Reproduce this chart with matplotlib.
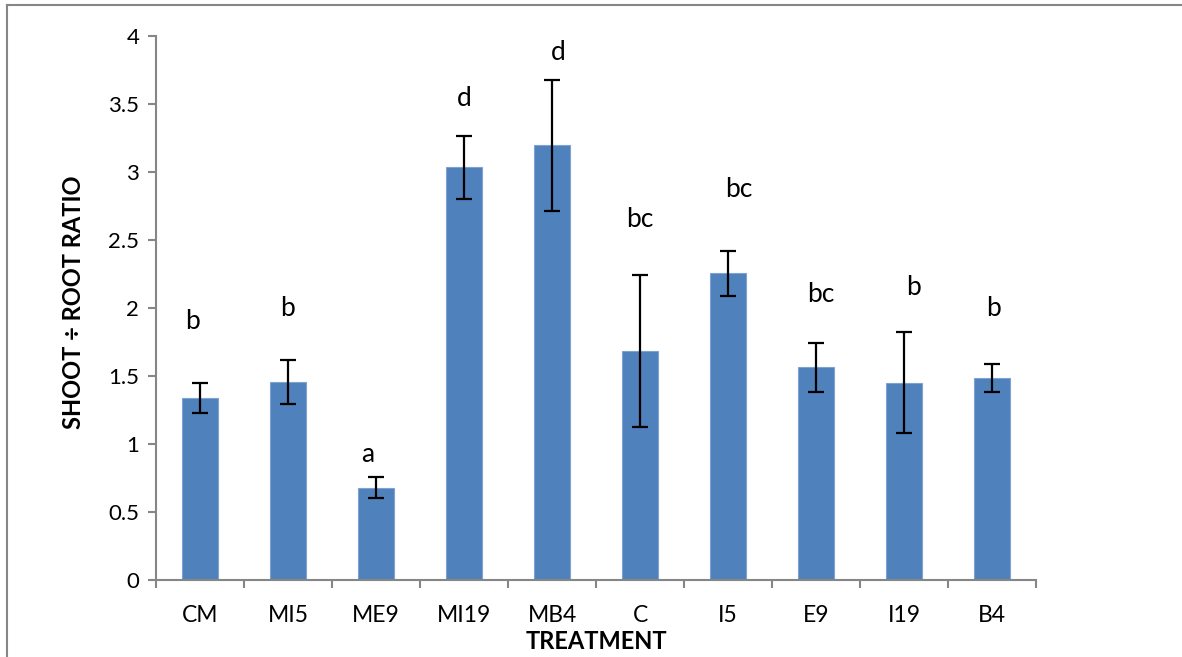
import matplotlib.pyplot as plt
import numpy as np
from matplotlib.lines import Line2D

treatments = ["CM", "MI5", "ME9", "MI19", "MB4", "C", "I5", "E9", "I19", "B4"]
ratio = [1.34, 1.455, 0.68, 3.035, 3.195, 1.685, 2.255, 1.565, 1.45, 1.485]
err = [0.11, 0.16, 0.075, 0.23, 0.48, 0.56, 0.167, 0.18, 0.37, 0.10]
letters = ["b", "b", "a", "d", "d", "bc", "bc", "bc", "b", "b"]
letter_y = [1.9, 2.0, 0.92, 3.54, 3.88, 2.65, 2.87, 2.1, 2.15, 2.0]
letter_dx = [-0.08, 0.0, -0.09, 0.0, 0.07, 0.0, 0.12, 0.06, 0.11, 0.02]

plt.rcParams['font.family'] = ['Lato', 'DejaVu Sans']

fig = plt.figure(figsize=(11.82, 6.57), dpi=100)
ax = fig.add_axes([156/1182, 1 - 580/657, 880/1182, 544/657])

x = np.arange(len(treatments))
ax.bar(x, ratio, width=0.4, color='#4F81BD', edgecolor='#7FA3D0', linewidth=0.8, zorder=2)
ax.errorbar(x, ratio, yerr=err, fmt='none', ecolor='black', elinewidth=1.6,
            capsize=6, capthick=1.6, zorder=3)
for xi, lab, ly, dx in zip(x, letters, letter_y, letter_dx):
    ax.text(xi + dx, ly, lab, ha='center', va='center', fontsize=19)

ax.set_xlim(-0.5, len(treatments) - 0.5)
ax.set_ylim(0, 4)
ax.set_yticks(np.arange(0, 4.01, 0.5))
ax.set_yticklabels(["0", "0.5", "1", "1.5", "2", "2.5", "3", "3.5", "4"])
ax.set_xticks(x)
ax.set_xticklabels(treatments)
ax.set_xticks(np.arange(-0.5, len(treatments), 1), minor=True)
ax.tick_params(axis='x', which='major', length=0, labelsize=16.5, pad=18)
ax.tick_params(axis='x', which='minor', length=6, width=1.5, color='#868686')
ax.tick_params(axis='y', length=6, width=1.5, color='#868686', labelsize=16, pad=6)

for s in ['top', 'right']:
    ax.spines[s].set_visible(False)
for s in ['left', 'bottom']:
    ax.spines[s].set_color('#868686')
    ax.spines[s].set_linewidth(1.5)

ax.set_xlabel("TREATMENT", fontsize=17, fontweight='bold', va='baseline')
ax.xaxis.set_label_coords(0.5, (580 - 649) / 544)
ax.set_ylabel("SHOOT ÷ ROOT RATIO", fontsize=17, fontweight='bold', va='center')
ax.yaxis.set_label_coords((74 - 156) / 880, (580 - 302) / 544)

# outer chart frame (left and top edges visible)
fig.add_artist(Line2D([7/1182, 7/1182], [0, 1 - 5/657], transform=fig.transFigure,
                      color='#868686', linewidth=1.5))
fig.add_artist(Line2D([7/1182, 1], [1 - 5/657, 1 - 5/657], transform=fig.transFigure,
                      color='#868686', linewidth=1.5))

fig.savefig('out.png', dpi=100)
